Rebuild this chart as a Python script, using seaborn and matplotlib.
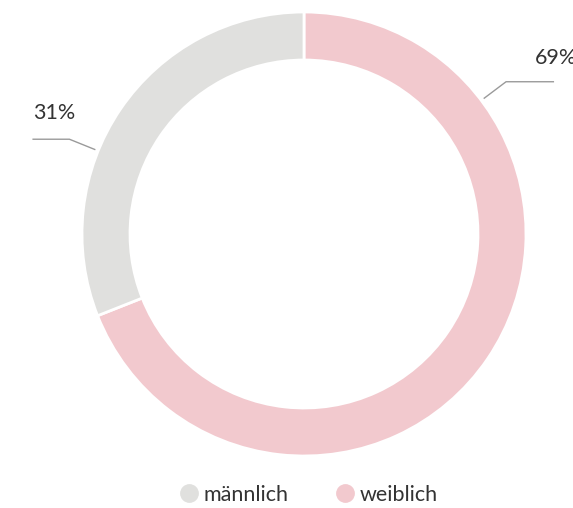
import numpy as np
import matplotlib.pyplot as plt
import seaborn as sns
from matplotlib.lines import Line2D

# --- DATOS ---
CATEGORIES = ["weiblich", "männlich"]
SHARES = [69, 31]
LABELS = ["69%", "31%"]
LEGEND_ORDER = ["männlich", "weiblich"]
COLORS = {"weiblich": "#f2c9ce", "männlich": "#e0e0de"}

sns.set_theme(style="white")
plt.rcParams['font.family'] = ['Lato', 'DejaVu Sans']

fig = plt.figure(figsize=(5.73, 5.08), dpi=100)
ax = fig.add_axes([0, 0, 1, 1])

center = (304, 274)
radius = 222
wedges, _ = ax.pie(
    SHARES,
    colors=[COLORS[c] for c in CATEGORIES],
    startangle=90,
    counterclock=False,
    center=center,
    radius=radius,
    wedgeprops=dict(width=48, edgecolor='white', linewidth=2),
    frame=True,
)
ax.set_xlim(0, 573)
ax.set_ylim(0, 508)
ax.set_aspect('equal')
ax.axis('off')

# --- ETIQUETAS CON LÍNEAS ---
label_angles = [37, 158]   # grados, posición del conector
label_run = [48, -37]      # largo del tramo horizontal
for lab, ang, run in zip(LABELS, label_angles, label_run):
    a = np.deg2rad(ang)
    x0, y0 = center[0] + 225 * np.cos(a), center[1] + 225 * np.sin(a)
    x1, y1 = center[0] + 253 * np.cos(a), center[1] + 253 * np.sin(a)
    x2 = x1 + run
    ax.plot([x0, x1, x2], [y0, y1, y1], color='#9a9a9a', linewidth=1, solid_capstyle='butt')
    if run > 0:
        ax.text(x2 - 19, y1 + 14, lab, ha='left', va='bottom', fontsize=15.5, color='#333333')
    else:
        ax.text(x2 + 1, y1 + 16, lab, ha='left', va='bottom', fontsize=15.5, color='#333333')

# --- LEYENDA ---
handles = [Line2D([0], [0], marker='o', linestyle='', markersize=12.5,
                  markerfacecolor=COLORS[c], markeredgecolor=COLORS[c], label=c)
           for c in LEGEND_ORDER]
ax.legend(handles=handles, loc='center', bbox_to_anchor=(308 / 573, 1 - 495 / 508), ncol=2,
          frameon=False, fontsize=15.5, handlelength=1.0, handletextpad=0.2,
          columnspacing=2.1, labelcolor='#333333', borderaxespad=0)

fig.savefig('out.png', dpi=100)
